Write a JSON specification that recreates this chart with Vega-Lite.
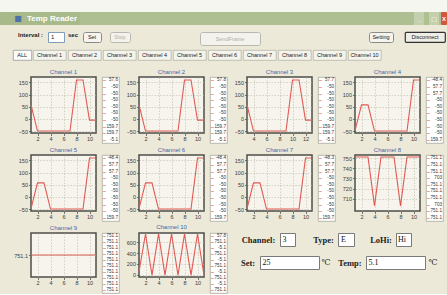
{
"$schema":"https://vega.github.io/schema/vega-lite/v6.json",
"background":"#ece9d8",
"padding":0,
"spacing":0,
"datasets":{
"c1":[{"t":1,"v":57.6},{"t":2,"v":-50},{"t":3,"v":-50},{"t":4,"v":-50},{"t":5,"v":-50},{"t":6,"v":-50},{"t":7,"v":-50},{"t":8,"v":159.7},{"t":9,"v":159.7},{"t":10,"v":-5.1},{"t":11,"v":-5.1}],
"c2":[{"t":1,"v":57.8},{"t":2,"v":-50},{"t":3,"v":-50},{"t":4,"v":-50},{"t":5,"v":-50},{"t":6,"v":-50},{"t":7,"v":-50},{"t":8,"v":159.7},{"t":9,"v":159.7},{"t":10,"v":-5.1},{"t":11,"v":-5.1}],
"c3":[{"t":3,"v":57.7},{"t":4,"v":-50},{"t":5,"v":-50},{"t":6,"v":-50},{"t":7,"v":-50},{"t":8,"v":-50},{"t":9,"v":-50},{"t":10,"v":159.7},{"t":11,"v":159.7},{"t":12,"v":-5.1},{"t":13,"v":-5.1}],
"c4":[{"t":1,"v":-48.4},{"t":2,"v":57.7},{"t":3,"v":57.7},{"t":4,"v":-50},{"t":5,"v":-50},{"t":6,"v":-50},{"t":7,"v":-50},{"t":8,"v":-50},{"t":9,"v":-50},{"t":10,"v":159.7},{"t":11,"v":159.7}],
"c5":[{"t":1,"v":-48.4},{"t":2,"v":57.7},{"t":3,"v":57.7},{"t":4,"v":-50},{"t":5,"v":-50},{"t":6,"v":-50},{"t":7,"v":-50},{"t":8,"v":-50},{"t":9,"v":-50},{"t":10,"v":159.7},{"t":11,"v":159.7}],
"c6":[{"t":1,"v":-48.4},{"t":2,"v":57.7},{"t":3,"v":57.7},{"t":4,"v":-50},{"t":5,"v":-50},{"t":6,"v":-50},{"t":7,"v":-50},{"t":8,"v":-50},{"t":9,"v":-50},{"t":10,"v":159.7},{"t":11,"v":159.7}],
"c7":[{"t":1,"v":-48.3},{"t":2,"v":57.7},{"t":3,"v":57.7},{"t":4,"v":-50},{"t":5,"v":-50},{"t":6,"v":-50},{"t":7,"v":-50},{"t":8,"v":-50},{"t":9,"v":-50},{"t":10,"v":159.7},{"t":11,"v":159.7}],
"c8":[{"t":1,"v":751.1},{"t":2,"v":751.1},{"t":3,"v":751.1},{"t":4,"v":703},{"t":5,"v":751.1},{"t":6,"v":751.1},{"t":7,"v":751.1},{"t":8,"v":703},{"t":9,"v":751.1},{"t":10,"v":751.1},{"t":11,"v":751.1}],
"c9":[{"t":1,"v":751.1},{"t":2,"v":751.1},{"t":3,"v":751.1},{"t":4,"v":751.1},{"t":5,"v":751.1},{"t":6,"v":751.1},{"t":7,"v":751.1},{"t":8,"v":751.1},{"t":9,"v":751.1},{"t":10,"v":751.1},{"t":11,"v":751.1}],
"c10":[{"t":1,"v":57.8},{"t":2,"v":751.1},{"t":3,"v":-5.1},{"t":4,"v":751.1},{"t":5,"v":-5.1},{"t":6,"v":751.1},{"t":7,"v":-5.1},{"t":8,"v":751.1},{"t":9,"v":-5.1},{"t":10,"v":751.1},{"t":11,"v":-5.1}]
},
"config":{
"view":{"fill":"#f6f4ec","stroke":"#4d4d48","strokeWidth":1.5},
"axis":{"labelFont":"Liberation Sans","labelFontSize":5.5,"labelColor":"#3a3a3a","tickSize":2.5,"tickColor":"#555555","tickWidth":0.8,"domain":false,"gridColor":"#b9b9aa","gridDash":[1.5,1.5],"gridWidth":0.6,"labelPadding":1},
"axisX":{"minExtent":9,"maxExtent":9},
"axisY":{"minExtent":18,"maxExtent":18},
"title":{"font":"Liberation Sans","fontSize":6,"color":"#4466aa","fontWeight":"normal","offset":2},
"text":{"font":"Liberation Sans"},
"line":{"color":"#e05a55","strokeWidth":1.1}
},
"vconcat":[
{"spacing":0,"vconcat":[
 {"width":447,"height":12,"data":{"values":[]},"mark":"text","encoding":{"text":{"value":""}},"view":{"stroke":null,"fill":"#f6f6f1"}},
 {"spacing":0,"hconcat":[
  {"width":14,"height":13,"data":{"values":[]},"mark":"text","encoding":{"text":{"value":""}},"view":{"stroke":null,"fill":"#a8ba8a"}},
  {"width":8,"height":13,"data":{"values":[{"label":"■"}]},"mark":{"type":"text","fontSize":8,"color":"#4f73a8","font":"DejaVu Sans"},"encoding":{"text":{"field":"label"}},"view":{"stroke":null,"fill":"#a8ba8a"}},
  {"width":2,"height":13,"data":{"values":[]},"mark":"text","encoding":{"text":{"value":""}},"view":{"stroke":null,"fill":"#a8ba8a"}},
  {"width":56,"height":13,"data":{"values":[{"label":"Temp Reader"}]},"mark":{"type":"text","fontSize":8,"fontWeight":"bold","color":"white"},"encoding":{"text":{"field":"label"}},"view":{"stroke":null,"fill":"#a8ba8a"}},
  {"width":334,"height":13,"data":{"values":[]},"mark":"text","encoding":{"text":{"value":""}},"view":{"stroke":null,"fill":"#aebf92"}},
  {"width":10,"height":13,"data":{"values":[{"label":"_"}]},"mark":{"type":"text","fontSize":6,"fontWeight":"bold","color":"white"},"encoding":{"text":{"field":"label"}},"view":{"stroke":null,"fill":"#c4d0ad","cornerRadius":1}},
  {"width":5,"height":13,"data":{"values":[]},"mark":"text","encoding":{"text":{"value":""}},"view":{"stroke":null,"fill":"#aebf92"}},
  {"width":10,"height":13,"data":{"values":[{"label":"□"}]},"mark":{"type":"text","fontSize":6,"color":"white","font":"DejaVu Sans"},"encoding":{"text":{"field":"label"}},"view":{"stroke":null,"fill":"#c4d0ad","cornerRadius":1}},
  {"width":2,"height":13,"data":{"values":[]},"mark":"text","encoding":{"text":{"value":""}},"view":{"stroke":null,"fill":"#aebf92"}},
  {"width":6,"height":13,"data":{"values":[{"label":"X"}]},"mark":{"type":"text","fontSize":6,"fontWeight":"bold","color":"white","align":"left","dx":-2},"encoding":{"text":{"field":"label"}},"view":{"stroke":null,"fill":"#d4553a","cornerRadius":1}}
 ]},
 {"spacing":0,"vconcat":[
  {"width":1,"height":6,"data":{"values":[]},"mark":"text","encoding":{"text":{"value":""}},"view":{"stroke":null,"fill":null}},
  {"spacing":0,"hconcat":[
   {"width":16,"height":6,"data":{"values":[]},"mark":"text","encoding":{"text":{"value":""}},"view":{"stroke":null,"fill":null}},
   {"width":29,"height":6,"data":{"values":[{"label":"Interval :"}]},"mark":{"type":"text","fontSize":6,"fontWeight":"bold","color":"#222222"},"encoding":{"text":{"field":"label"}},"view":{"stroke":null,"fill":null}},
   {"width":2,"height":6,"data":{"values":[]},"mark":"text","encoding":{"text":{"value":""}},"view":{"stroke":null,"fill":null}},
   {"width":16,"height":10,"data":{"values":[{"label":"1"}]},"mark":{"type":"text","fontSize":6,"color":"#222222","align":"left","dx":-5},"encoding":{"text":{"field":"label"}},"view":{"stroke":"#7f9db9","fill":"white","strokeWidth":1}},
   {"width":1,"height":6,"data":{"values":[]},"mark":"text","encoding":{"text":{"value":""}},"view":{"stroke":null,"fill":null}},
   {"width":14,"height":6,"data":{"values":[{"label":"sec"}]},"mark":{"type":"text","fontSize":6,"fontWeight":"bold","color":"#222222"},"encoding":{"text":{"field":"label"}},"view":{"stroke":null,"fill":null}},
   {"width":2,"height":6,"data":{"values":[]},"mark":"text","encoding":{"text":{"value":""}},"view":{"stroke":null,"fill":null}},
   {"width":18,"height":10,"data":{"values":[{"label":"Set"}]},"mark":{"type":"text","fontSize":5.5,"color":"#222222"},"encoding":{"text":{"field":"label"}},"view":{"stroke":"#8a8a86","fill":"#f5f4ef","cornerRadius":2,"strokeWidth":1}},
   {"width":7,"height":6,"data":{"values":[]},"mark":"text","encoding":{"text":{"value":""}},"view":{"stroke":null,"fill":null}},
   {"width":20,"height":10,"data":{"values":[{"label":"Stop"}]},"mark":{"type":"text","fontSize":5.5,"color":"#b0b0a8"},"encoding":{"text":{"field":"label"}},"view":{"stroke":"#b8b8b0","fill":"#f3f2ec","cornerRadius":2,"strokeWidth":1}},
   {"width":68,"height":6,"data":{"values":[]},"mark":"text","encoding":{"text":{"value":""}},"view":{"stroke":null,"fill":null}},
   {"width":60,"height":13,"data":{"values":[{"label":"SendFrame"}]},"mark":{"type":"text","fontSize":5.5,"color":"#b0b0a8"},"encoding":{"text":{"field":"label"}},"view":{"stroke":"#b8b8b0","fill":"#f3f2ec","cornerRadius":2,"strokeWidth":1}},
   {"width":107,"height":6,"data":{"values":[]},"mark":"text","encoding":{"text":{"value":""}},"view":{"stroke":null,"fill":null}},
   {"width":24,"height":10,"data":{"values":[{"label":"Setting"}]},"mark":{"type":"text","fontSize":5.5,"color":"#222222"},"encoding":{"text":{"field":"label"}},"view":{"stroke":"#8a8a86","fill":"#f5f4ef","cornerRadius":2,"strokeWidth":1}},
   {"width":9.4,"height":6,"data":{"values":[]},"mark":"text","encoding":{"text":{"value":""}},"view":{"stroke":null,"fill":null}},
   {"width":40,"height":10,"data":{"values":[{"label":"Disconnect"}]},"mark":{"type":"text","fontSize":5.5,"color":"#222222"},"encoding":{"text":{"field":"label"}},"view":{"stroke":"#333333","fill":"#efeee6","cornerRadius":1,"strokeWidth":1.2}}
  ]}
 ]},
 {"spacing":0,"vconcat":[
  {"width":1,"height":3,"data":{"values":[]},"mark":"text","encoding":{"text":{"value":""}},"view":{"stroke":null,"fill":null}},
  {"spacing":0,"hconcat":[
   {"width":12,"height":10,"data":{"values":[]},"mark":"text","encoding":{"text":{"value":""}},"view":{"stroke":null,"fill":null}},
   {"width":18.4,"height":10,"data":{"values":[{"label":"ALL"}]},"mark":{"type":"text","fontSize":5.5,"color":"#222222"},"encoding":{"text":{"field":"label"}},"view":{"stroke":"#919b9c","fill":"#fcfcfa","strokeWidth":0.8}},
   {"width":32.9,"height":10,"data":{"values":[{"label":"Channel 1"}]},"mark":{"type":"text","fontSize":5.5,"color":"#222222"},"encoding":{"text":{"field":"label"}},"view":{"stroke":"#b4b4a6","fill":"#f4f3ec","strokeWidth":0.8}},
   {"width":32.9,"height":10,"data":{"values":[{"label":"Channel 2"}]},"mark":{"type":"text","fontSize":5.5,"color":"#222222"},"encoding":{"text":{"field":"label"}},"view":{"stroke":"#b4b4a6","fill":"#f4f3ec","strokeWidth":0.8}},
   {"width":32.9,"height":10,"data":{"values":[{"label":"Channel 3"}]},"mark":{"type":"text","fontSize":5.5,"color":"#222222"},"encoding":{"text":{"field":"label"}},"view":{"stroke":"#b4b4a6","fill":"#f4f3ec","strokeWidth":0.8}},
   {"width":32.9,"height":10,"data":{"values":[{"label":"Channel 4"}]},"mark":{"type":"text","fontSize":5.5,"color":"#222222"},"encoding":{"text":{"field":"label"}},"view":{"stroke":"#b4b4a6","fill":"#f4f3ec","strokeWidth":0.8}},
   {"width":32.9,"height":10,"data":{"values":[{"label":"Channel 5"}]},"mark":{"type":"text","fontSize":5.5,"color":"#222222"},"encoding":{"text":{"field":"label"}},"view":{"stroke":"#b4b4a6","fill":"#f4f3ec","strokeWidth":0.8}},
   {"width":32.9,"height":10,"data":{"values":[{"label":"Channel 6"}]},"mark":{"type":"text","fontSize":5.5,"color":"#222222"},"encoding":{"text":{"field":"label"}},"view":{"stroke":"#b4b4a6","fill":"#f4f3ec","strokeWidth":0.8}},
   {"width":32.9,"height":10,"data":{"values":[{"label":"Channel 7"}]},"mark":{"type":"text","fontSize":5.5,"color":"#222222"},"encoding":{"text":{"field":"label"}},"view":{"stroke":"#b4b4a6","fill":"#f4f3ec","strokeWidth":0.8}},
   {"width":32.9,"height":10,"data":{"values":[{"label":"Channel 8"}]},"mark":{"type":"text","fontSize":5.5,"color":"#222222"},"encoding":{"text":{"field":"label"}},"view":{"stroke":"#b4b4a6","fill":"#f4f3ec","strokeWidth":0.8}},
   {"width":32.9,"height":10,"data":{"values":[{"label":"Channel 9"}]},"mark":{"type":"text","fontSize":5.5,"color":"#222222"},"encoding":{"text":{"field":"label"}},"view":{"stroke":"#b4b4a6","fill":"#f4f3ec","strokeWidth":0.8}},
   {"width":32.9,"height":10,"data":{"values":[{"label":"Channel 10"}]},"mark":{"type":"text","fontSize":5.5,"color":"#222222"},"encoding":{"text":{"field":"label"}},"view":{"stroke":"#b4b4a6","fill":"#f4f3ec","strokeWidth":0.8}}
  ]}
 ]},
 {"width":1,"height":7,"data":{"values":[]},"mark":"text","encoding":{"text":{"value":""}},"view":{"stroke":null,"fill":null}}
]},
{"spacing":1,"vconcat":[
 {"spacing":0,"hconcat":[
  {"width":9,"height":1,"data":{"values":[]},"mark":"text","encoding":{"text":{"value":""}},"view":{"stroke":null,"fill":null}},
  {"width":65,"height":56,"title":"Channel 1","data":{"name":"c1"},"mark":"line","encoding":{"x":{"field":"t","type":"quantitative","title":null,"scale":{"domain":[1,11],"nice":false,"zero":false},"axis":{"values":[2,4,6,8,10]}},"y":{"field":"v","type":"quantitative","title":null,"scale":{"domain":[-58,172],"nice":false,"zero":false},"axis":{"values":[-50,0,50,100,150],"minExtent":21,"maxExtent":21}}}},
  {"width":1.5,"height":1,"data":{"values":[]},"mark":"text","encoding":{"text":{"value":""}},"view":{"stroke":null,"fill":null}},
  {"width":17,"height":66,"data":{"name":"c1"},"transform":[{"window":[{"op":"row_number","as":"i"}]},{"filter":"datum.i <= 10"}],"view":{"fill":"white","stroke":"#a8a8a0","strokeWidth":0.8},"encoding":{"y":{"field":"i","type":"ordinal","axis":null}},"layer":[{"mark":{"type":"text","text":"–","color":"#e05a55","fontSize":6,"fontWeight":"bold"},"encoding":{"x":{"datum":2.5,"type":"quantitative","scale":{"domain":[0,17],"nice":false},"axis":null}}},{"mark":{"type":"text","align":"right","fontSize":4.6,"color":"#333333"},"encoding":{"x":{"datum":16,"type":"quantitative","axis":null},"text":{"field":"v","type":"nominal"}}}]},
  {"width":65,"height":56,"title":"Channel 2","data":{"name":"c2"},"mark":"line","encoding":{"x":{"field":"t","type":"quantitative","title":null,"scale":{"domain":[1,11],"nice":false,"zero":false},"axis":{"values":[2,4,6,8,10]}},"y":{"field":"v","type":"quantitative","title":null,"scale":{"domain":[-58,172],"nice":false,"zero":false},"axis":{"values":[-50,0,50,100,150]}}}},
  {"width":1.5,"height":1,"data":{"values":[]},"mark":"text","encoding":{"text":{"value":""}},"view":{"stroke":null,"fill":null}},
  {"width":17,"height":66,"data":{"name":"c2"},"transform":[{"window":[{"op":"row_number","as":"i"}]},{"filter":"datum.i <= 10"}],"view":{"fill":"white","stroke":"#a8a8a0","strokeWidth":0.8},"encoding":{"y":{"field":"i","type":"ordinal","axis":null}},"layer":[{"mark":{"type":"text","text":"–","color":"#e05a55","fontSize":6,"fontWeight":"bold"},"encoding":{"x":{"datum":2.5,"type":"quantitative","scale":{"domain":[0,17],"nice":false},"axis":null}}},{"mark":{"type":"text","align":"right","fontSize":4.6,"color":"#333333"},"encoding":{"x":{"datum":16,"type":"quantitative","axis":null},"text":{"field":"v","type":"nominal"}}}]},
  {"width":65,"height":56,"title":"Channel 3","data":{"name":"c3"},"mark":"line","encoding":{"x":{"field":"t","type":"quantitative","title":null,"scale":{"domain":[3,13],"nice":false,"zero":false},"axis":{"values":[4,6,8,10,12]}},"y":{"field":"v","type":"quantitative","title":null,"scale":{"domain":[-58,172],"nice":false,"zero":false},"axis":{"values":[-50,0,50,100,150]}}}},
  {"width":1.5,"height":1,"data":{"values":[]},"mark":"text","encoding":{"text":{"value":""}},"view":{"stroke":null,"fill":null}},
  {"width":17,"height":66,"data":{"name":"c3"},"transform":[{"window":[{"op":"row_number","as":"i"}]},{"filter":"datum.i <= 10"}],"view":{"fill":"white","stroke":"#a8a8a0","strokeWidth":0.8},"encoding":{"y":{"field":"i","type":"ordinal","axis":null}},"layer":[{"mark":{"type":"text","text":"–","color":"#e05a55","fontSize":6,"fontWeight":"bold"},"encoding":{"x":{"datum":2.5,"type":"quantitative","scale":{"domain":[0,17],"nice":false},"axis":null}}},{"mark":{"type":"text","align":"right","fontSize":4.6,"color":"#333333"},"encoding":{"x":{"datum":16,"type":"quantitative","axis":null},"text":{"field":"v","type":"nominal"}}}]},
  {"width":65,"height":56,"title":"Channel 4","data":{"name":"c4"},"mark":"line","encoding":{"x":{"field":"t","type":"quantitative","title":null,"scale":{"domain":[1,11],"nice":false,"zero":false},"axis":{"values":[2,4,6,8,10]}},"y":{"field":"v","type":"quantitative","title":null,"scale":{"domain":[-58,172],"nice":false,"zero":false},"axis":{"values":[-50,0,50,100,150]}}}},
  {"width":1.5,"height":1,"data":{"values":[]},"mark":"text","encoding":{"text":{"value":""}},"view":{"stroke":null,"fill":null}},
  {"width":17,"height":66,"data":{"name":"c4"},"transform":[{"window":[{"op":"row_number","as":"i"}]},{"filter":"datum.i <= 10"}],"view":{"fill":"white","stroke":"#a8a8a0","strokeWidth":0.8},"encoding":{"y":{"field":"i","type":"ordinal","axis":null}},"layer":[{"mark":{"type":"text","text":"–","color":"#e05a55","fontSize":6,"fontWeight":"bold"},"encoding":{"x":{"datum":2.5,"type":"quantitative","scale":{"domain":[0,17],"nice":false},"axis":null}}},{"mark":{"type":"text","align":"right","fontSize":4.6,"color":"#333333"},"encoding":{"x":{"datum":16,"type":"quantitative","axis":null},"text":{"field":"v","type":"nominal"}}}]}
 ]},
 {"spacing":0,"hconcat":[
  {"width":9,"height":1,"data":{"values":[]},"mark":"text","encoding":{"text":{"value":""}},"view":{"stroke":null,"fill":null}},
  {"width":65,"height":56,"title":"Channel 5","data":{"name":"c5"},"mark":"line","encoding":{"x":{"field":"t","type":"quantitative","title":null,"scale":{"domain":[1,11],"nice":false,"zero":false},"axis":{"values":[2,4,6,8,10]}},"y":{"field":"v","type":"quantitative","title":null,"scale":{"domain":[-58,172],"nice":false,"zero":false},"axis":{"values":[-50,0,50,100,150],"minExtent":21,"maxExtent":21}}}},
  {"width":1.5,"height":1,"data":{"values":[]},"mark":"text","encoding":{"text":{"value":""}},"view":{"stroke":null,"fill":null}},
  {"width":17,"height":66,"data":{"name":"c5"},"transform":[{"window":[{"op":"row_number","as":"i"}]},{"filter":"datum.i <= 10"}],"view":{"fill":"white","stroke":"#a8a8a0","strokeWidth":0.8},"encoding":{"y":{"field":"i","type":"ordinal","axis":null}},"layer":[{"mark":{"type":"text","text":"–","color":"#e05a55","fontSize":6,"fontWeight":"bold"},"encoding":{"x":{"datum":2.5,"type":"quantitative","scale":{"domain":[0,17],"nice":false},"axis":null}}},{"mark":{"type":"text","align":"right","fontSize":4.6,"color":"#333333"},"encoding":{"x":{"datum":16,"type":"quantitative","axis":null},"text":{"field":"v","type":"nominal"}}}]},
  {"width":65,"height":56,"title":"Channel 6","data":{"name":"c6"},"mark":"line","encoding":{"x":{"field":"t","type":"quantitative","title":null,"scale":{"domain":[1,11],"nice":false,"zero":false},"axis":{"values":[2,4,6,8,10]}},"y":{"field":"v","type":"quantitative","title":null,"scale":{"domain":[-58,172],"nice":false,"zero":false},"axis":{"values":[-50,0,50,100,150]}}}},
  {"width":1.5,"height":1,"data":{"values":[]},"mark":"text","encoding":{"text":{"value":""}},"view":{"stroke":null,"fill":null}},
  {"width":17,"height":66,"data":{"name":"c6"},"transform":[{"window":[{"op":"row_number","as":"i"}]},{"filter":"datum.i <= 10"}],"view":{"fill":"white","stroke":"#a8a8a0","strokeWidth":0.8},"encoding":{"y":{"field":"i","type":"ordinal","axis":null}},"layer":[{"mark":{"type":"text","text":"–","color":"#e05a55","fontSize":6,"fontWeight":"bold"},"encoding":{"x":{"datum":2.5,"type":"quantitative","scale":{"domain":[0,17],"nice":false},"axis":null}}},{"mark":{"type":"text","align":"right","fontSize":4.6,"color":"#333333"},"encoding":{"x":{"datum":16,"type":"quantitative","axis":null},"text":{"field":"v","type":"nominal"}}}]},
  {"width":65,"height":56,"title":"Channel 7","data":{"name":"c7"},"mark":"line","encoding":{"x":{"field":"t","type":"quantitative","title":null,"scale":{"domain":[1,11],"nice":false,"zero":false},"axis":{"values":[2,4,6,8,10]}},"y":{"field":"v","type":"quantitative","title":null,"scale":{"domain":[-58,172],"nice":false,"zero":false},"axis":{"values":[-50,0,50,100,150]}}}},
  {"width":1.5,"height":1,"data":{"values":[]},"mark":"text","encoding":{"text":{"value":""}},"view":{"stroke":null,"fill":null}},
  {"width":17,"height":66,"data":{"name":"c7"},"transform":[{"window":[{"op":"row_number","as":"i"}]},{"filter":"datum.i <= 10"}],"view":{"fill":"white","stroke":"#a8a8a0","strokeWidth":0.8},"encoding":{"y":{"field":"i","type":"ordinal","axis":null}},"layer":[{"mark":{"type":"text","text":"–","color":"#e05a55","fontSize":6,"fontWeight":"bold"},"encoding":{"x":{"datum":2.5,"type":"quantitative","scale":{"domain":[0,17],"nice":false},"axis":null}}},{"mark":{"type":"text","align":"right","fontSize":4.6,"color":"#333333"},"encoding":{"x":{"datum":16,"type":"quantitative","axis":null},"text":{"field":"v","type":"nominal"}}}]},
  {"width":65,"height":56,"title":"Channel 8","data":{"name":"c8"},"mark":"line","encoding":{"x":{"field":"t","type":"quantitative","title":null,"scale":{"domain":[1,11],"nice":false,"zero":false},"axis":{"values":[2,4,6,8,10]}},"y":{"field":"v","type":"quantitative","title":null,"scale":{"domain":[698,753],"nice":false,"zero":false},"axis":{"values":[710,720,730,740,750]}}}},
  {"width":1.5,"height":1,"data":{"values":[]},"mark":"text","encoding":{"text":{"value":""}},"view":{"stroke":null,"fill":null}},
  {"width":17,"height":66,"data":{"name":"c8"},"transform":[{"window":[{"op":"row_number","as":"i"}]},{"filter":"datum.i <= 10"}],"view":{"fill":"white","stroke":"#a8a8a0","strokeWidth":0.8},"encoding":{"y":{"field":"i","type":"ordinal","axis":null}},"layer":[{"mark":{"type":"text","text":"–","color":"#e05a55","fontSize":6,"fontWeight":"bold"},"encoding":{"x":{"datum":2.5,"type":"quantitative","scale":{"domain":[0,17],"nice":false},"axis":null}}},{"mark":{"type":"text","align":"right","fontSize":4.6,"color":"#333333"},"encoding":{"x":{"datum":16,"type":"quantitative","axis":null},"text":{"field":"v","type":"nominal"}}}]}
 ]},
 {"spacing":0,"hconcat":[
  {"width":9,"height":1,"data":{"values":[]},"mark":"text","encoding":{"text":{"value":""}},"view":{"stroke":null,"fill":null}},
  {"width":65,"height":44,"title":"Channel 9","data":{"name":"c9"},"mark":"line","encoding":{"x":{"field":"t","type":"quantitative","title":null,"scale":{"domain":[1,11],"nice":false,"zero":false},"axis":{"values":[2,4,6,8,10]}},"y":{"field":"v","type":"quantitative","title":null,"scale":{"domain":[750.1,752.1],"nice":false,"zero":false},"axis":{"values":[751.1],"format":".1f","minExtent":21,"maxExtent":21}}}},
  {"width":1.5,"height":1,"data":{"values":[]},"mark":"text","encoding":{"text":{"value":""}},"view":{"stroke":null,"fill":null}},
  {"width":17,"height":60,"data":{"name":"c9"},"transform":[{"window":[{"op":"row_number","as":"i"}]},{"filter":"datum.i <= 10"}],"view":{"fill":"white","stroke":"#a8a8a0","strokeWidth":0.8},"encoding":{"y":{"field":"i","type":"ordinal","axis":null}},"layer":[{"mark":{"type":"text","text":"–","color":"#e05a55","fontSize":6,"fontWeight":"bold"},"encoding":{"x":{"datum":2.5,"type":"quantitative","scale":{"domain":[0,17],"nice":false},"axis":null}}},{"mark":{"type":"text","align":"right","fontSize":4.6,"color":"#333333"},"encoding":{"x":{"datum":16,"type":"quantitative","axis":null},"text":{"field":"v","type":"nominal"}}}]},
  {"width":65,"height":44,"title":"Channel 10","data":{"name":"c10"},"mark":"line","encoding":{"x":{"field":"t","type":"quantitative","title":null,"scale":{"domain":[1,11],"nice":false,"zero":false},"axis":{"values":[2,4,6,8,10]}},"y":{"field":"v","type":"quantitative","title":null,"scale":{"domain":[-40,770],"nice":false,"zero":false},"axis":{"values":[0,200,400,600]}}}},
  {"width":1.5,"height":1,"data":{"values":[]},"mark":"text","encoding":{"text":{"value":""}},"view":{"stroke":null,"fill":null}},
  {"width":17,"height":60,"data":{"name":"c10"},"transform":[{"window":[{"op":"row_number","as":"i"}]},{"filter":"datum.i <= 10"}],"view":{"fill":"white","stroke":"#a8a8a0","strokeWidth":0.8},"encoding":{"y":{"field":"i","type":"ordinal","axis":null}},"layer":[{"mark":{"type":"text","text":"–","color":"#e05a55","fontSize":6,"fontWeight":"bold"},"encoding":{"x":{"datum":2.5,"type":"quantitative","scale":{"domain":[0,17],"nice":false},"axis":null}}},{"mark":{"type":"text","align":"right","fontSize":4.6,"color":"#333333"},"encoding":{"x":{"datum":16,"type":"quantitative","axis":null},"text":{"field":"v","type":"nominal"}}}]},
  {"spacing":0,"vconcat":[
   {"spacing":0,"hconcat":[
    {"width":9.4,"height":13,"data":{"values":[]},"mark":"text","encoding":{"text":{"value":""}},"view":{"stroke":null,"fill":null}},
    {"width":41,"height":13,"data":{"values":[{"label":"Channel:"}]},"mark":{"type":"text","font":"Liberation Serif","fontSize":8.5,"fontWeight":"bold","color":"#222222"},"encoding":{"text":{"field":"label"}},"view":{"stroke":null,"fill":null}},
    {"width":15,"height":13,"data":{"values":[{"label":"3"}]},"mark":{"type":"text","font":"Liberation Serif","fontSize":8,"color":"#111111","align":"left","dx":-5},"encoding":{"text":{"field":"label"}},"view":{"stroke":"#7a7a7a","fill":"white","strokeWidth":1}},
    {"width":15,"height":13,"data":{"values":[]},"mark":"text","encoding":{"text":{"value":""}},"view":{"stroke":null,"fill":null}},
    {"width":25,"height":13,"data":{"values":[{"label":"Type:"}]},"mark":{"type":"text","font":"Liberation Serif","fontSize":8.5,"fontWeight":"bold","color":"#222222"},"encoding":{"text":{"field":"label"}},"view":{"stroke":null,"fill":null}},
    {"width":1,"height":13,"data":{"values":[]},"mark":"text","encoding":{"text":{"value":""}},"view":{"stroke":null,"fill":null}},
    {"width":16,"height":13,"data":{"values":[{"label":"E"}]},"mark":{"type":"text","font":"Liberation Serif","fontSize":8,"color":"#111111","align":"left","dx":-5},"encoding":{"text":{"field":"label"}},"view":{"stroke":"#7a7a7a","fill":"white","strokeWidth":1}},
    {"width":13,"height":13,"data":{"values":[]},"mark":"text","encoding":{"text":{"value":""}},"view":{"stroke":null,"fill":null}},
    {"width":26,"height":13,"data":{"values":[{"label":"LoHi:"}]},"mark":{"type":"text","font":"Liberation Serif","fontSize":8.5,"fontWeight":"bold","color":"#222222"},"encoding":{"text":{"field":"label"}},"view":{"stroke":null,"fill":null}},
    {"width":1,"height":13,"data":{"values":[]},"mark":"text","encoding":{"text":{"value":""}},"view":{"stroke":null,"fill":null}},
    {"width":15,"height":13,"data":{"values":[{"label":"Hi"}]},"mark":{"type":"text","font":"Liberation Serif","fontSize":8,"color":"#111111","align":"left","dx":-5.5},"encoding":{"text":{"field":"label"}},"view":{"stroke":"#7a7a7a","fill":"white","strokeWidth":1}}
   ]},
   {"width":1,"height":8,"data":{"values":[]},"mark":"text","encoding":{"text":{"value":""}},"view":{"stroke":null,"fill":null}},
   {"spacing":0,"hconcat":[
    {"width":9.4,"height":13,"data":{"values":[]},"mark":"text","encoding":{"text":{"value":""}},"view":{"stroke":null,"fill":null}},
    {"width":20,"height":13,"data":{"values":[{"label":"Set:"}]},"mark":{"type":"text","font":"Liberation Serif","fontSize":8.5,"fontWeight":"bold","color":"#222222"},"encoding":{"text":{"field":"label"}},"view":{"stroke":null,"fill":null}},
    {"width":1,"height":13,"data":{"values":[]},"mark":"text","encoding":{"text":{"value":""}},"view":{"stroke":null,"fill":null}},
    {"width":59,"height":13,"data":{"values":[{"label":"25"}]},"mark":{"type":"text","font":"Liberation Serif","fontSize":8,"color":"#111111","align":"left","dx":-27},"encoding":{"text":{"field":"label"}},"view":{"stroke":"#7a7a7a","fill":"white","strokeWidth":1}},
    {"width":1,"height":13,"data":{"values":[]},"mark":"text","encoding":{"text":{"value":""}},"view":{"stroke":null,"fill":null}},
    {"width":10,"height":13,"data":{"values":[{"label":"℃"}]},"mark":{"type":"text","font":"DejaVu Serif","fontSize":8,"color":"#222222"},"encoding":{"text":{"field":"label"}},"view":{"stroke":null,"fill":null}},
    {"width":6,"height":13,"data":{"values":[]},"mark":"text","encoding":{"text":{"value":""}},"view":{"stroke":null,"fill":null}},
    {"width":26,"height":13,"data":{"values":[{"label":"Temp:"}]},"mark":{"type":"text","font":"Liberation Serif","fontSize":8.5,"fontWeight":"bold","color":"#222222"},"encoding":{"text":{"field":"label"}},"view":{"stroke":null,"fill":null}},
    {"width":2,"height":13,"data":{"values":[]},"mark":"text","encoding":{"text":{"value":""}},"view":{"stroke":null,"fill":null}},
    {"width":59,"height":13,"data":{"values":[{"label":"5.1"}]},"mark":{"type":"text","font":"Liberation Serif","fontSize":8,"color":"#111111","align":"left","dx":-27},"encoding":{"text":{"field":"label"}},"view":{"stroke":"#7a7a7a","fill":"white","strokeWidth":1}},
    {"width":1,"height":13,"data":{"values":[]},"mark":"text","encoding":{"text":{"value":""}},"view":{"stroke":null,"fill":null}},
    {"width":12,"height":13,"data":{"values":[{"label":"℃"}]},"mark":{"type":"text","font":"DejaVu Serif","fontSize":8,"color":"#222222"},"encoding":{"text":{"field":"label"}},"view":{"stroke":null,"fill":null}}
   ]}
  ]}
 ]}
]}
]
}
